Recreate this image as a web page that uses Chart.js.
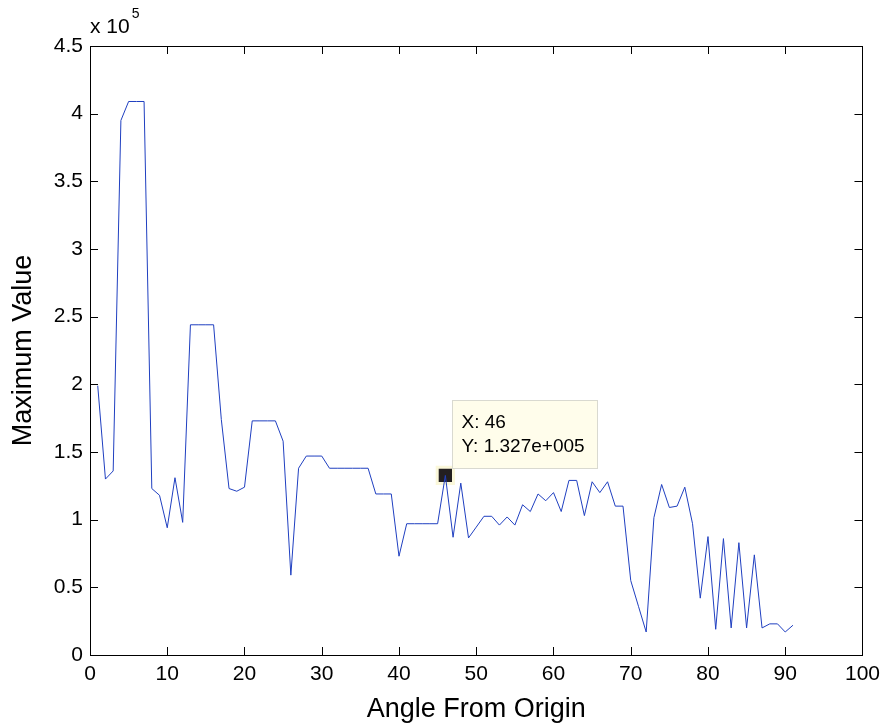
<!DOCTYPE html>
<html>
<head>
<meta charset="utf-8">
<title>Maximum Value vs Angle From Origin</title>
<script src="https://cdn.jsdelivr.net/npm/chart.js@4"></script>
<style>
  html, body { margin: 0; padding: 0; background: #ffffff; }
  #chart { display: block; }
</style>
</head>
<body>
<canvas id="chart" width="887" height="726"></canvas>
<script>
// angle in degrees
const angles = [
  1, 2, 3, 4, 5, 6, 7, 8, 9, 10,
  11, 12, 13, 14, 15, 16, 17, 18, 19, 20,
  21, 22, 23, 24, 25, 26, 27, 28, 29, 30,
  31, 32, 33, 34, 35, 36, 37, 38, 39, 40,
  41, 42, 43, 44, 45, 46, 47, 48, 49, 50,
  51, 52, 53, 54, 55, 56, 57, 58, 59, 60,
  61, 62, 63, 64, 65, 66, 67, 68, 69, 70,
  71, 72, 73, 74, 75, 76, 77, 78, 79, 80,
  81, 82, 83, 84, 85, 86, 87, 88, 89, 90,
  91,
];

// maximum value, in units of 10^5
const maxValues = [
  1.99, 1.30, 1.36, 3.95, 4.09, 4.09, 4.09, 1.23, 1.18, 0.94,
  1.31, 0.98, 2.44, 2.44, 2.44, 2.44, 1.74, 1.23, 1.21, 1.24,
  1.73, 1.73, 1.73, 1.73, 1.58, 0.59, 1.38, 1.47, 1.47, 1.47,
  1.38, 1.38, 1.38, 1.38, 1.38, 1.38, 1.19, 1.19, 1.19, 0.73,
  0.97, 0.97, 0.97, 0.97, 0.97, 1.327, 0.87, 1.27, 0.865, 0.945,
  1.025, 1.025, 0.96, 1.02, 0.96, 1.11, 1.06, 1.19, 1.14, 1.20,
  1.06, 1.29, 1.29, 1.03, 1.28, 1.20, 1.28, 1.10, 1.10, 0.55,
  0.36, 0.17, 1.015, 1.26, 1.09, 1.10, 1.24, 0.97, 0.42, 0.875,
  0.19, 0.86, 0.20, 0.83, 0.20, 0.74, 0.20, 0.23, 0.23, 0.17,
  0.22,
];

const xTicks = [0, 10, 20, 30, 40, 50, 60, 70, 80, 90, 100];
const yTicks = [0, 0.5, 1, 1.5, 2, 2.5, 3, 3.5, 4, 4.5];

// data cursor
const tipX = 46;
const tipY = 1.327;
const tipLines = ["X: 46", "Y: 1.327e+005"];

const FONT = "'Liberation Sans', Arial, Helvetica, sans-serif";

// box around the axes + inward ticks on all four sides (matlab style)
const axesBox = {
  id: "axesBox",
  afterDatasetsDraw(chart) {
    const { ctx, chartArea: a, scales } = chart;
    const len = 8;
    ctx.save();
    ctx.strokeStyle = "#000";
    ctx.lineWidth = 1;
    ctx.beginPath();
    xTicks.forEach((t) => {
      const px = Math.round(scales.x.getPixelForValue(t)) + 0.5;
      ctx.moveTo(px, a.bottom);
      ctx.lineTo(px, a.bottom - len);
      ctx.moveTo(px, a.top);
      ctx.lineTo(px, a.top + len);
    });
    yTicks.forEach((t) => {
      const py = Math.round(scales.y.getPixelForValue(t)) + 0.5;
      ctx.moveTo(a.left, py);
      ctx.lineTo(a.left + len, py);
      ctx.moveTo(a.right, py);
      ctx.lineTo(a.right - len, py);
    });
    ctx.stroke();
    ctx.strokeRect(
      Math.round(a.left) + 0.5,
      Math.round(a.top) + 0.5,
      Math.round(a.right - a.left),
      Math.round(a.bottom - a.top)
    );

    // exponent label "x 10^5"
    ctx.fillStyle = "#000";
    ctx.textBaseline = "alphabetic";
    ctx.textAlign = "left";
    ctx.font = "21px " + FONT;
    ctx.fillText("x 10", a.left, 33);
    const w = ctx.measureText("x 10").width;
    ctx.font = "14px " + FONT;
    ctx.fillText("5", a.left + w + 2, 18);
    ctx.restore();
  },
  afterDraw(chart) {
    // data tip box
    const { ctx, scales } = chart;
    const mx = scales.x.getPixelForValue(tipX);
    const my = scales.y.getPixelForValue(tipY);
    const bx = Math.round(mx + 7) + 0.5;
    const by = Math.round(my - 75) + 0.5;
    const bw = 145;
    const bh = 68;
    ctx.save();
    ctx.fillStyle = "#fffdeb";
    ctx.strokeStyle = "#d9d9d0";
    ctx.lineWidth = 1;
    ctx.fillRect(bx, by, bw, bh);
    ctx.strokeRect(bx, by, bw, bh);
    ctx.fillStyle = "#000";
    ctx.font = "19px " + FONT;
    ctx.textAlign = "left";
    ctx.textBaseline = "alphabetic";
    ctx.fillText(tipLines[0], bx + 9, by + 27);
    ctx.fillText(tipLines[1], bx + 9, by + 51);
    ctx.restore();
  },
};

const ctx = document.getElementById("chart").getContext("2d");
new Chart(ctx, {
  type: "line",
  data: {
    datasets: [
      {
        label: "Maximum Value",
        data: angles.map((a, i) => ({ x: a, y: maxValues[i] })),
        borderColor: "#1f3fc0",
        borderWidth: 1,
        pointRadius: 0,
        fill: false,
        tension: 0,
      },
      {
        label: "cursor",
        data: [{ x: tipX, y: tipY }],
        showLine: false,
        pointStyle: "rect",
        pointRadius: 11.5,
        backgroundColor: "#231f20",
        borderColor: "#fbf8da",
        borderWidth: 3,
      },
    ],
  },
  options: {
    responsive: false,
    animation: false,
    devicePixelRatio: 1,
    layout: { padding: { left: 0, top: 46, right: 24, bottom: 0 } },
    plugins: {
      legend: { display: false },
      tooltip: { enabled: false },
    },
    scales: {
      x: {
        type: "linear",
        min: 0,
        max: 100,
        afterFit: (s) => { s.height = 71; },
        afterBuildTicks: (s) => { s.ticks = xTicks.map((v) => ({ value: v })); },
        grid: { display: false, drawTicks: false, tickLength: 0 },
        border: { display: false },
        ticks: {
          color: "#000",
          padding: 7,
          maxRotation: 0,
          font: { family: FONT, size: 21 },
          callback: (v) => String(v),
        },
        title: {
          display: true,
          text: "Angle From Origin",
          color: "#000",
          padding: { top: 0, bottom: 0 },
          font: { family: FONT, size: 27 },
        },
      },
      y: {
        type: "linear",
        min: 0,
        max: 4.5,
        afterFit: (s) => { s.width = 90; },
        afterBuildTicks: (s) => { s.ticks = yTicks.map((v) => ({ value: v })); },
        grid: { display: false, drawTicks: false, tickLength: 0 },
        border: { display: false },
        ticks: {
          color: "#000",
          padding: 7,
          font: { family: FONT, size: 21 },
          callback: (v) => String(v),
        },
        title: {
          display: true,
          text: "Maximum Value",
          color: "#000",
          padding: { top: 7, bottom: 0 },
          font: { family: FONT, size: 27 },
        },
      },
    },
  },
  plugins: [axesBox],
});
</script>
</body>
</html>
